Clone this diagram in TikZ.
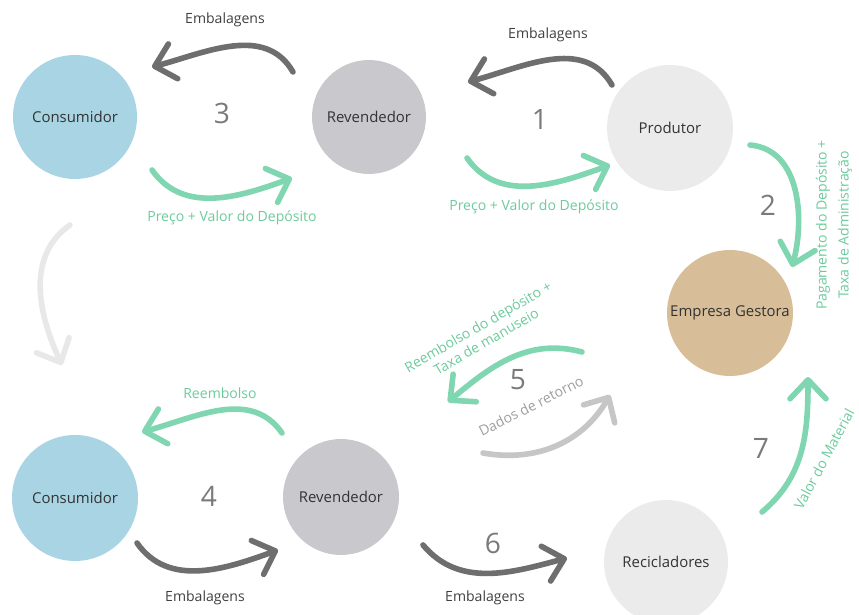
\documentclass[tikz,border=0pt]{standalone}
\usepackage{fontspec}
\setmainfont{Open Sans}
\usetikzlibrary{arrows.meta}

\definecolor{azul}{HTML}{A9D4E4}
\definecolor{cinzarev}{HTML}{C9C9CD}
\definecolor{cinzaclaro}{HTML}{EBEBEB}
\definecolor{bege}{HTML}{D8BE98}
\definecolor{verde}{HTML}{80D6B0}
\definecolor{verdetxt}{HTML}{6CCB9C}
\definecolor{escuro}{HTML}{6E6E6E}
\definecolor{medio}{HTML}{C6C6C6}
\definecolor{palido}{HTML}{E8E8E8}
\definecolor{numero}{HTML}{7A7A7A}

\begin{document}
\begin{tikzpicture}[x=0.02cm, y=0.02cm,
    ator/.style={circle, inner sep=0pt, text=black!80, font=\fontsize{8.5}{10}\selectfont},
    seta/.style={line width=3.2pt, line cap=round, -{Straight Barb[length=0.38cm, width=0.72cm, round]}},
    num/.style={text=numero, font=\fontsize{16}{18}\selectfont},
    rot/.style={font=\fontsize{8}{9.5}\selectfont}]
        \useasboundingbox (0,0) rectangle (859,615);
        % atores
        \node[ator, fill=azul, minimum size=2.48cm] (con) at (75,498) {Consumidor};
        \node[ator, fill=cinzarev, minimum size=2.28cm] (rev) at (369,498) {Revendedor};
        \node[ator, fill=cinzaclaro, minimum size=2.52cm] (prod) at (670,487) {Produtor};
        \node[ator, fill=bege, minimum size=2.52cm] (emp) at (730,302) {Empresa Gestora};
        \node[ator, fill=azul, minimum size=2.52cm] (con2) at (75,117) {Consumidor};
        \node[ator, fill=cinzarev, minimum size=2.32cm] (rev2) at (341,118) {Revendedor};
        \node[ator, fill=cinzaclaro, minimum size=2.48cm] (rec) at (666,53) {Recicladores};
        % numeros
        \node[num] (n1) at (540,496) {1};
        \node[num] (n2) at (768,410) {2};
        \node[num] (n3) at (222,502) {3};
        \node[num] (n4) at (209,119) {4};
        \node[num] (n5) at (518,235) {5};
        \node[num] (n6) at (493,72) {6};
        \node[num] (n7) at (761,167) {7};
        % pontas das setas
        \coordinate (a1) at (293,543); \coordinate (b1) at (152,548);
        \coordinate (a2) at (152,445); \coordinate (b2) at (292,437);
        \coordinate (a3) at (612,530); \coordinate (b3) at (468,533);
        \coordinate (a4) at (467,457); \coordinate (b4) at (610,450);
        \coordinate (a5) at (750,470); \coordinate (b5) at (792,348);
        \coordinate (a6) at (70,390);  \coordinate (b6) at (62,250);
        \coordinate (a7) at (582,263); \coordinate (b7) at (448,213);
        \coordinate (a8) at (483,162); \coordinate (b8) at (610,220);
        \coordinate (a9) at (282,182); \coordinate (b9) at (142,183);
        \coordinate (a10) at (137,72); \coordinate (b10) at (278,65);
        \coordinate (a11) at (423,70); \coordinate (b11) at (567,57);
        \coordinate (a12) at (762,103); \coordinate (b12) at (808,238);
        % setas
        \draw[seta, escuro] (a1) to[out=120, in=15] (b1);
        \draw[seta, verde] (a2) to[out=-55, in=200] (b2);
        \draw[seta, escuro] (a3) to[out=120, in=15] (b3);
        \draw[seta, verde] (a4) to[out=-55, in=200] (b4);
        \draw[seta, verde] (a5) to[out=-5, in=75] (b5);
        \draw[seta, palido] (a6) to[out=215, in=115] (b6);
        \draw[seta, verde] (a7) to[out=165, in=40] (b7);
        \draw[seta, medio] (a8) to[out=-10, in=240] (b8);
        \draw[seta, verde] (a9) to[out=125, in=15] (b9);
        \draw[seta, escuro] (a10) to[out=-55, in=200] (b10);
        \draw[seta, escuro] (a11) to[out=-50, in=195] (b11);
        \draw[seta, verde] (a12) to[out=40, in=270] (b12);
        % rotulos
        \node[rot, text=black!75] (l1) at (225,595) {Embalagens};
        \node[rot, text=verdetxt] (l2) at (232,397) {Preço + Valor do Depósito};
        \node[rot, text=black!75] (l3) at (548,580) {Embalagens};
        \node[rot, text=verdetxt] (l4) at (534,408) {Preço + Valor do Depósito};
        \node[rot, text=verdetxt, rotate=90, align=center] (l5) at (834,390) {Pagamento do Depósito +\\[3pt]Taxa de Administração};
        \node[rot, text=verdetxt, rotate=30, align=center] (l6) at (482,281) {Reembolso do depósito +\\Taxa de manuseio};
        \node[rot, text=medio!80!black, rotate=27] (l7) at (531,209) {Dados de retorno};
        \node[rot, text=verdetxt] (l8) at (220,222) {Reembolso};
        \node[rot, text=black!75] (l9) at (205,17) {Embalagens};
        \node[rot, text=black!75] (l10) at (485,17) {Embalagens};
        \node[rot, text=verdetxt, rotate=62] (l11) at (824,156) {Valor do Material};
\end{tikzpicture}
\end{document}
